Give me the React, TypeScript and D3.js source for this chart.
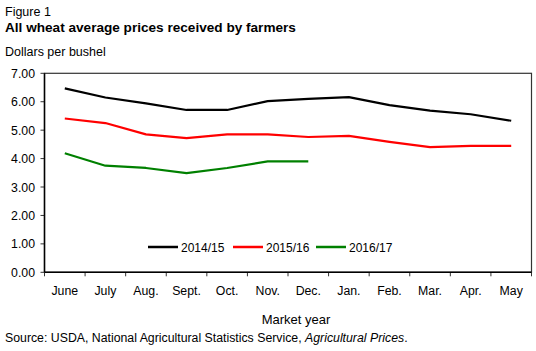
import React from 'react';
import * as d3 from 'd3';

const months = ['June', 'July', 'Aug.', 'Sept.', 'Oct.', 'Nov.', 'Dec.', 'Jan.', 'Feb.', 'Mar.', 'Apr.', 'May'];
const yTicks = [0, 1, 2, 3, 4, 5, 6, 7];

const prices1415 = [6.47, 6.15, 5.94, 5.71, 5.71, 6.02, 6.1, 6.16, 5.88, 5.69, 5.56, 5.33];
const prices1516 = [5.41, 5.25, 4.85, 4.72, 4.85, 4.85, 4.76, 4.8, 4.59, 4.4, 4.45, 4.45];
const prices1617 = [4.19, 3.75, 3.67, 3.49, 3.67, 3.9, 3.9];

const seriesNames = ['2014/15', '2015/16', '2016/17'];
const seriesColors = ['#000000', '#ff0000', '#008000'];
const seriesValues = [prices1415, prices1516, prices1617];

const W = 536;
const H = 351;
const margin = { left: 44.5, right: 4.5, top: 73.3, bottom: 78.7 };
const font = 'Liberation Sans, Arial, sans-serif';

export default function App() {
  const x = d3.scaleBand<string>()
    .domain(months)
    .range([margin.left, W - margin.right]);
  const y = d3.scaleLinear()
    .domain([0, 7])
    .range([H - margin.bottom, margin.top]);

  const line = d3.line<number>()
    .x((_, i) => (x(months[i]) ?? 0) + x.bandwidth() / 2)
    .y(d => y(d));

  const bottom = y(0);
  const legendX = [148, 233, 316];

  return (
    <svg width={W} height={H} style={{ position: 'absolute', left: 0, top: 0 }} fontFamily={font}>
      <rect width={W} height={H} fill="#fff" />
      <text x={5} y={16} fontSize={12.5}>Figure 1</text>
      <text x={5} y={32} fontSize={13.6} fontWeight="bold">All wheat average prices received by farmers</text>
      <text x={5} y={56} fontSize={12.5}>Dollars per bushel</text>

      {/* plot frame */}
      <rect x={margin.left} y={margin.top} width={W - margin.right - margin.left} height={bottom - margin.top}
        fill="none" stroke="#333" strokeWidth={1.2} />

      {/* y axis */}
      {yTicks.map(t => (
        <g key={t}>
          <line x1={margin.left - 4} x2={margin.left} y1={y(t)} y2={y(t)} stroke="#333" />
          <text x={35} y={y(t) + 4.5} fontSize={12.3} textAnchor="end">{t.toFixed(2)}</text>
        </g>
      ))}
      <line x1={margin.left} x2={margin.left} y1={margin.top} y2={bottom} stroke="#000" strokeWidth={1.5} />

      {/* x axis */}
      {months.map(m => (
        <g key={m}>
          <line x1={x(m)} x2={x(m)} y1={bottom} y2={bottom + 4} stroke="#333" />
          <text x={(x(m) ?? 0) + x.bandwidth() / 2} y={294.5} fontSize={12.3} textAnchor="middle">{m}</text>
        </g>
      ))}
      <line x1={W - margin.right} x2={W - margin.right} y1={bottom} y2={bottom + 4} stroke="#333" />
      <line x1={margin.left} x2={W - margin.right} y1={bottom} y2={bottom} stroke="#000" strokeWidth={1.5} />

      {/* series */}
      {seriesValues.map((vals, i) => (
        <path key={seriesNames[i]} d={line(vals) ?? ''} fill="none" stroke={seriesColors[i]} strokeWidth={2.2} strokeLinejoin="round" />
      ))}

      {/* legend */}
      {seriesNames.map((n, i) => (
        <g key={n}>
          <line x1={legendX[i]} x2={legendX[i] + 30} y1={247} y2={247} stroke={seriesColors[i]} strokeWidth={2.5} />
          <text x={legendX[i] + 33} y={251.5} fontSize={12}>{n}</text>
        </g>
      ))}

      <text x={296} y={323.5} fontSize={13} textAnchor="middle">Market year</text>
      <text x={5} y={342} fontSize={12.3}>
        Source: USDA, National Agricultural Statistics Service, <tspan fontStyle="italic">Agricultural Prices</tspan>.
      </text>
    </svg>
  );
}
